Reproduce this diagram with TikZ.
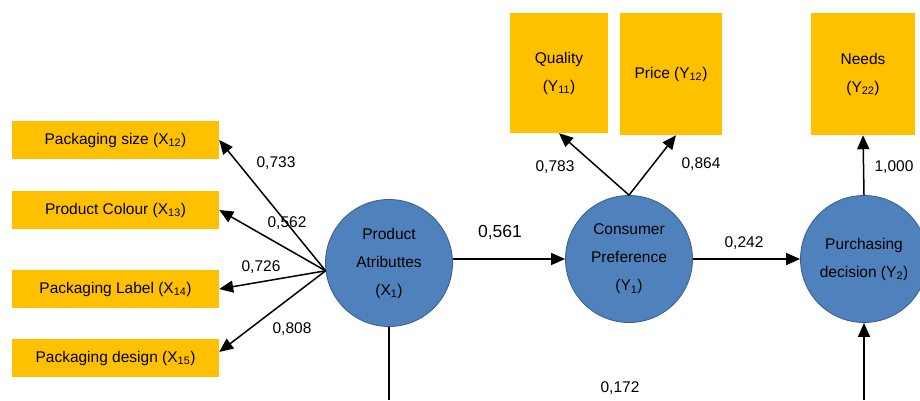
\documentclass[tikz,border=0pt]{standalone}
\usepackage{fontspec}
\setmainfont{Liberation Sans}
\usetikzlibrary{arrows.meta}
\definecolor{boxorange}{HTML}{FFC000}
\definecolor{circblue}{HTML}{4F81BD}
\definecolor{circline}{HTML}{385D8A}
\tikzset{
    indicator/.style={rectangle, fill=boxorange, inner sep=0pt, align=center, font=\fontsize{15.5}{28}\selectfont},
    latent/.style={circle, fill=circblue, draw=circline, line width=0.8pt, minimum size=127pt, inner sep=0pt, align=center, font=\fontsize{15.5}{28}\selectfont},
    link/.style={line width=1.5pt, -{Triangle[length=14pt,width=12pt]}},
    coef/.style={inner sep=0pt, font=\fontsize{15.5}{18}\selectfont}
}
\begin{document}
\begin{tikzpicture}[x=1pt, y=-1pt]
        \useasboundingbox (0,0) rectangle (920,400);

        % Vertices
        \node[indicator, minimum width=207pt, minimum height=38pt](size) at (115.5,140){Packaging size (X\textsubscript{12})};
        \node[indicator, minimum width=207pt, minimum height=38pt](colour) at (115.5,210){Product Colour (X\textsubscript{13})};
        \node[indicator, minimum width=207pt, minimum height=38pt](label) at (115.5,289){Packaging Label (X\textsubscript{14})};
        \node[indicator, minimum width=207pt, minimum height=38pt](design) at (115.5,358){Packaging design (X\textsubscript{15})};
        \node[indicator, minimum width=98pt, minimum height=120pt](quality) at (559,73){Quality\\(Y\textsubscript{11})};
        \node[indicator, minimum width=102pt, minimum height=122pt](price) at (671,74){Price (Y\textsubscript{12})};
        \node[indicator, minimum width=104pt, minimum height=122pt](needs) at (863,74){Needs\\(Y\textsubscript{22})};
        \node[latent](attr) at (389,263){Product\\Atributtes\\(X\textsubscript{1})};
        \node[latent](pref) at (629,259){Consumer\\Preference\\(Y\textsubscript{1})};
        \node[latent](decision) at (864,259){Purchasing\\decision (Y\textsubscript{2})};
        \coordinate (fan) at (attr.187);
        \coordinate (attrlow) at (389,400);
        \coordinate (decisionlow) at (864,400);

        % Edges
        \draw[link](fan) -- (size.east);
        \draw[link](fan) -- (colour.east);
        \draw[link](fan) -- (label.east);
        \draw[link](fan) -- ([yshift=6pt]design.east);
        \draw[link](attr.east |- pref.west) -- (pref.west);
        \draw[link](pref.north) -- (quality.south);
        \draw[link](pref.north) -- ([xshift=5pt]price.south);
        \draw[link](pref.east) -- (decision.west);
        \draw[link](decision.north) -- (needs.south);
        \draw[line width=1.5pt](attr.south) -- (attrlow);
        \draw[link](decisionlow) -- (decision.south);

        % Coefficients
        \node[coef](c733) at (276,163){0,733};
        \node[coef](c562) at (287,223){0,562};
        \node[coef](c726) at (261,267){0,726};
        \node[coef](c808) at (292,329){0,808};
        \node[coef, font=\fontsize{17.5}{20}\selectfont](c561) at (500,233){0,561};
        \node[coef](c783) at (555,167){0,783};
        \node[coef](c864) at (701,164){0,864};
        \node[coef](c242) at (744,243){0,242};
        \node[coef](c1000) at (894,167){1,000};
        \node[coef](c172) at (620,388){0,172};

\end{tikzpicture}
\end{document}
